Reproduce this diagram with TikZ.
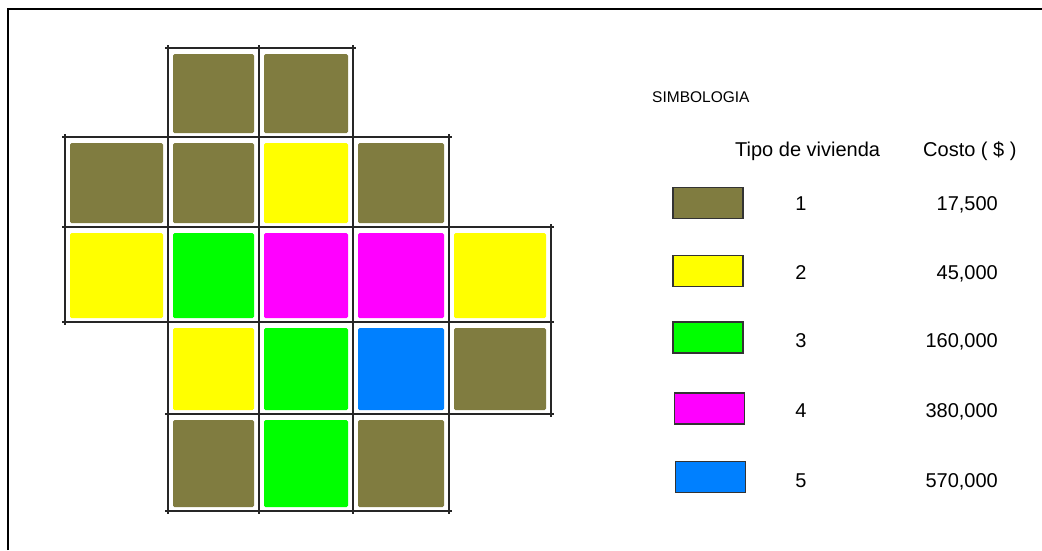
\documentclass[tikz,border=0pt]{standalone}
\usepackage{fontspec}
\setmainfont{Liberation Sans}
\usepackage{tikz}

\definecolor{olivo}{RGB}{128,124,64}
\definecolor{amarillo}{RGB}{255,255,0}
\definecolor{verde}{RGB}{0,255,0}
\definecolor{rosa}{RGB}{255,0,255}
\definecolor{azul}{RGB}{0,128,255}

\begin{document}
\begin{tikzpicture}[x=1pt, y=-1pt,
  marco/.style={line width=2.2pt, black},
  linea/.style={line width=1.4pt, black!85},
  lote/.style={rounded corners=1.5pt},
  muestra/.style={draw=black!80, line width=1.2pt, minimum width=70pt,
                  minimum height=31pt, inner sep=0pt},
  texto/.style={font=\fontsize{20}{24}\selectfont, inner sep=0pt}
]
  \useasboundingbox (0,0) rectangle (1042,550);
  \draw[marco] (8,550) -- (8,9) -- (1042,9);

  % lotes
  \def\gx{{65,168,259,353,449,551}}
  \def\gy{{48,137,227,322,414,511}}
  \foreach \i/\j/\c in {1/0/olivo, 2/0/olivo,
      0/1/olivo, 1/1/olivo, 2/1/amarillo, 3/1/olivo,
      0/2/amarillo, 1/2/verde, 2/2/rosa, 3/2/rosa, 4/2/amarillo,
      1/3/amarillo, 2/3/verde, 3/3/azul, 4/3/olivo,
      1/4/olivo, 2/4/verde, 3/4/olivo}{
    \pgfmathsetmacro\xa{\gx[\i]+5}
    \pgfmathsetmacro\xb{\gx[\i+1]-5}
    \pgfmathsetmacro\ya{\gy[\j]+6}
    \pgfmathsetmacro\yb{\gy[\j+1]-4}
    \fill[lote, \c] (\xa,\ya) rectangle (\xb,\yb);
  }

  % cuadricula
  \foreach \y/\xa/\xb in {48/168/353, 137/65/449, 227/65/551,
                          322/65/551, 414/168/551, 511/168/449}
    \draw[linea] (\xa-3,\y) -- (\xb+3,\y);
  \foreach \x/\ya/\yb in {65/137/322, 168/48/511, 259/48/511,
                          353/48/511, 449/137/511, 551/227/414}
    \draw[linea] (\x,\ya-3) -- (\x,\yb+3);

  % simbologia
  \node[texto, font=\fontsize{15.5}{19}\selectfont, anchor=base west] (titulo) at (652,102) {SIMBOLOGIA};
  \node[texto, anchor=base west] (tipo) at (735,156) {Tipo de vivienda};
  \node[texto, anchor=base west] (costo) at (923,156) {Costo ( \$ )};
  \foreach \n/\c/\mx/\my/\b/\p in {1/olivo/708/203/210/17{,}500,
                                   2/amarillo/708/271/279/45{,}000,
                                   3/verde/708/337.5/347/160{,}000,
                                   4/rosa/709.5/408.5/417/380{,}000,
                                   5/azul/710.5/477/487/570{,}000}{
    \node[muestra, fill=\c] (m\n) at (\mx,\my) {};
    \node[texto, anchor=base] (t\n) at (801,\b) {\n};
    \node[texto, anchor=base east] (p\n) at (998,\b) {\p};
  }
\end{tikzpicture}
\end{document}
